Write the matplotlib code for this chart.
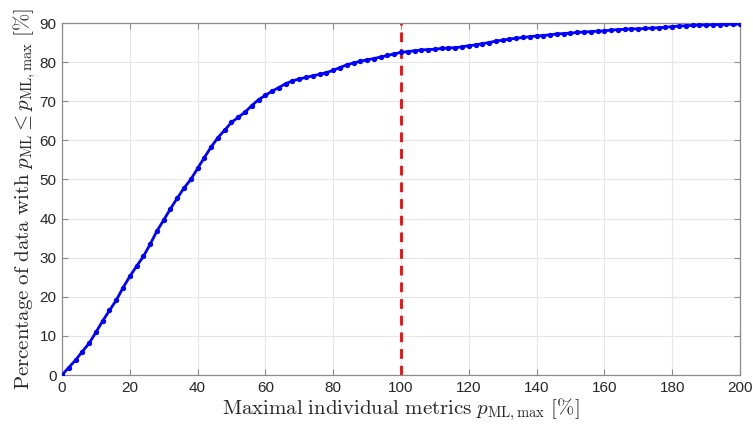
#!/usr/bin/env python
"""Cumulative share of data below a given maximal individual metric."""

import matplotlib

matplotlib.use("Agg")
import matplotlib.pyplot as plt
import numpy as np

# threshold p_ML,max [%], sampled every 2 %
p_max = np.arange(0, 202, 2)

# percentage of data with p_ML <= p_ML,max
pct_below = [
    0.0, 1.9, 3.8, 6.0, 8.1, 10.9, 13.8, 16.5, 19.1, 22.3,
    25.2, 27.8, 30.3, 33.4, 36.8, 39.6, 42.5, 45.2, 47.8, 50.0,
    52.8, 55.6, 58.3, 60.7, 62.6, 64.6, 65.9, 67.2, 68.9, 70.4,
    71.5, 72.6, 73.5, 74.5, 75.2, 75.7, 76.1, 76.5, 76.9, 77.3,
    77.9, 78.6, 79.3, 79.8, 80.2, 80.6, 80.9, 81.3, 81.7, 82.1,
    82.5, 82.7, 82.9, 83.1, 83.2, 83.3, 83.5, 83.6, 83.7, 83.9,
    84.2, 84.4, 84.7, 85.0, 85.4, 85.6, 85.9, 86.1, 86.3, 86.5,
    86.7, 86.8, 87.0, 87.2, 87.3, 87.4, 87.6, 87.7, 87.8, 87.9,
    88.0, 88.2, 88.3, 88.4, 88.5, 88.5, 88.6, 88.7, 88.8, 88.9,
    89.1, 89.2, 89.3, 89.4, 89.5, 89.5, 89.6, 89.6, 89.7, 89.7,
    89.7,
]

threshold = 100

plt.rcParams["font.family"] = ["Liberation Sans", "DejaVu Sans"]
plt.rcParams["mathtext.fontset"] = "cm"

fig = plt.figure(figsize=(7.53, 4.26), dpi=100)
ax = fig.add_axes([0.0823, 0.1197, 0.9004, 0.8263])

ax.plot([threshold, threshold], [0, 90], color="#ff0000", linestyle=(0, (3.5, 2.5)), linewidth=2.0, zorder=2)
ax.plot(p_max, pct_below, color="#0000ff", linewidth=2.0, marker="o", markersize=2.8, zorder=3)

ax.set_xlim(0, 200)
ax.set_ylim(0, 90)
ax.set_xticks(np.arange(0, 201, 20))
ax.set_yticks(np.arange(0, 91, 10))
ax.grid(True, color="#e6e6e6", linewidth=0.8)
ax.set_axisbelow(True)

for spine in ax.spines.values():
    spine.set_color("#8c8c8c")
    spine.set_linewidth(0.9)
ax.tick_params(direction="in", length=4, color="#8c8c8c", labelsize=11, labelcolor="#262626",
               top=True, right=True, pad=4)

ax.set_xlabel(r"$\mathrm{Maximal\ individual\ metrics}\ p_{\mathrm{ML,max}}\ [\%]$", fontsize=15,
              color="#262626", labelpad=1)
ax.set_ylabel(r"$\mathrm{Percentage\ of\ data\ with}\ p_{\mathrm{ML}} \leq p_{\mathrm{ML,max}}\ [\%]$",
              fontsize=15, color="#262626", labelpad=1)

fig.savefig("out.png", dpi=100)
plt.close(fig)
